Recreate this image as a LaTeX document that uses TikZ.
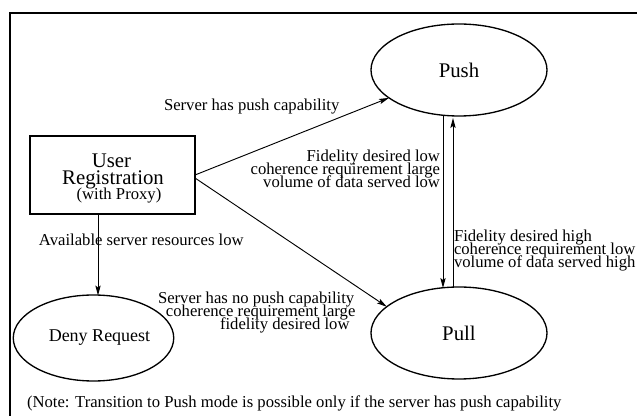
\documentclass[tikz,border=0pt]{standalone}
\usepackage{fontspec}
\setmainfont{Liberation Serif}
\usetikzlibrary{shapes.geometric,arrows.meta,calc}

\begin{document}
\begin{tikzpicture}[x=0.75pt,y=-0.75pt,
  every node/.style={inner sep=0pt, outer sep=0pt},
  small/.style={font=\fontsize{12.5}{13}\selectfont},
  mid/.style={font=\fontsize{13.5}{15}\selectfont},
  big/.style={font=\fontsize{15.6}{17}\selectfont},
  state/.style={draw, ellipse, line width=1pt, minimum width=132pt, minimum height=69pt},
  regbox/.style={draw, rectangle, line width=1pt, minimum width=123.75pt, minimum height=58.5pt},
  conn/.style={line width=0.7pt, -{Stealth[length=7.5pt,width=4pt,inset=1.5pt]}},
]
\useasboundingbox (0,0) rectangle (637,416);

% outer frame
\draw[line width=1.4pt] (10,430) -- (10,13) -- (650,13);

% states
\node[state, big] (push) at (459,70) {Push};
\node[state, big] (pull) at (459,333) {Pull};
\node[state, mid, minimum width=120pt, minimum height=64.5pt] (deny) at (93.5,338) {\hspace*{9pt}Deny Request};
\node[regbox] (box) at (112.5,175) {};

% text of the registration box
\node[big, anchor=base] (user) at (111.5,168) {User};
\node[big, anchor=base] (reg) at (113,185) {Registration};
\node[small, anchor=base] (proxy) at (119,200) {(with Proxy)};

% transitions
\coordinate (dtop) at ($(deny.north)+(4.5,0.5)$);
\draw[conn] (box.east) -- (push);
\draw[conn] ($(box.east)+(0,3)$) -- (pull.160);
\draw[conn] (box.south -| dtop) -- (dtop);
\draw[conn] ($(push.south)+(-16,-1)$) -- ($(pull.north)+(-16,1)$);
\draw[conn] ($(pull.north)+(-6,0)$) -- ($(push.south)+(-6,2)$);

% transition labels
\node[small, anchor=base west] (lpush) at (164,111) {Server has push capability};
\node[small, anchor=base east] (ldowna) at (440,162) {Fidelity desired low};
\node[small, anchor=base east] (ldownb) at (440,175) {coherence requirement large};
\node[small, anchor=base east] (ldownc) at (440,188) {volume of data served low};
\node[small, anchor=base west] (lupa) at (454,242) {Fidelity desired high};
\node[small, anchor=base west] (lupb) at (454,255) {coherence requirement low};
\node[small, anchor=base west] (lupc) at (454,268) {volume of data served high};
\node[small, anchor=base west] (ldeny) at (39,246) {Available server resources low};
\node[small, anchor=base west] (lpulla) at (158,304) {Server has no push capability};
\node[small, anchor=base west] (lpullb) at (166,317) {coherence requirement large};
\node[small, anchor=base west] (lpullc) at (220,330) {fidelity desired low};

% footnote
\node[small, anchor=base west] (note) at (27,408) {(Note: Transition to Push mode is possible only if the server has push capability};
\end{tikzpicture}
\end{document}
